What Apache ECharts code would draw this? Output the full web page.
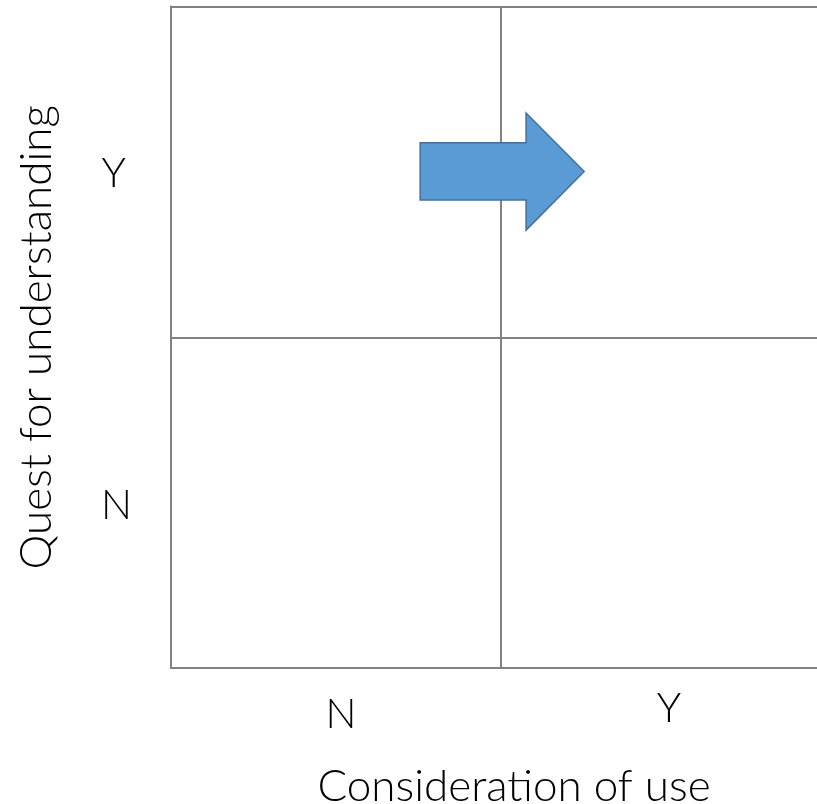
<!DOCTYPE html>
<html>
<head>
<meta charset="utf-8">
<script src="https://cdn.jsdelivr.net/npm/echarts@6/dist/echarts.min.js"></script>
<style>html,body{margin:0;padding:0;background:#fff}#c{width:817px;height:804px}</style>
</head>
<body>
<div id="c"></div>
<script>
const xCategories = ['N', 'Y'];
const yCategories = ['N', 'Y'];
const xTitle = 'Consideration of use';
const yTitle = 'Quest for understanding';
// arrow outline in data units (0..2 on both axes)
const arrowX = [0.755, 1.076, 1.076, 1.252, 1.076, 1.076, 0.755];
const arrowY = [1.588, 1.588, 1.678, 1.501, 1.324, 1.415, 1.415];

const FONT = 'Lato';
const lineColor = '#828282';
const chart = echarts.init(document.getElementById('c'), null, {renderer: 'canvas'});
const gridLine = {show: true, lineStyle: {color: lineColor, width: 2}};
chart.setOption({
  animation: false,
  backgroundColor: '#fff',
  grid: {left: 171, top: 6.5, width: 660, height: 661.5, containLabel: false, outerBoundsMode: 'none'},
  xAxis: [{
    type: 'category', data: xCategories, boundaryGap: true,
    axisLine: gridLine, axisTick: {show: false}, splitLine: gridLine,
    axisLabel: {margin: 20, fontFamily: FONT, fontWeight: 300, fontSize: 41, color: '#000',
      formatter: v => v === 'N' ? '{n|N}' : '{y|Y}',
      rich: {n: {fontFamily: FONT, fontWeight: 300, fontSize: 41, color: '#000', padding: [6, 0, 0, 10]},
             y: {fontFamily: FONT, fontWeight: 300, fontSize: 41, color: '#000', padding: [0, 0, 6, 6]}}},
    name: xTitle, nameLocation: 'middle', nameGap: 97,
    nameTextStyle: {fontFamily: FONT, fontWeight: 300, fontSize: 44, color: '#000', padding: [0, 0, 0, 26]}
  }, {
    type: 'value', min: 0, max: 2, show: false
  }],
  yAxis: [{
    type: 'category', data: yCategories, boundaryGap: true,
    axisLine: gridLine, axisTick: {show: false}, splitLine: gridLine,
    axisLabel: {margin: 39, fontFamily: FONT, fontWeight: 300, fontSize: 41, color: '#000',
      formatter: v => v === 'N' ? '{n|N}' : '{y|Y}',
      rich: {n: {fontFamily: FONT, fontWeight: 300, fontSize: 41, color: '#000', padding: [6, 0, 0, 0]},
             y: {fontFamily: FONT, fontWeight: 300, fontSize: 41, color: '#000', padding: [4, 6, 0, 0]}}},
    name: yTitle, nameLocation: 'middle', nameGap: 112, nameRotate: 90,
    nameTextStyle: {fontFamily: FONT, fontWeight: 300, fontSize: 44, color: '#000'}
  }, {
    type: 'value', min: 0, max: 2, show: false
  }],
  series: [{
    type: 'custom',
    xAxisIndex: 1, yAxisIndex: 1,
    data: [[0]],
    renderItem: function (params, api) {
      const pts = arrowX.map((x, i) => api.coord([x, arrowY[i]]));
      return {type: 'polygon', shape: {points: pts},
        style: {fill: '#5B9BD5', stroke: '#41719C', lineWidth: 1.5}};
    }
  }]
});
</script>
</body>
</html>
